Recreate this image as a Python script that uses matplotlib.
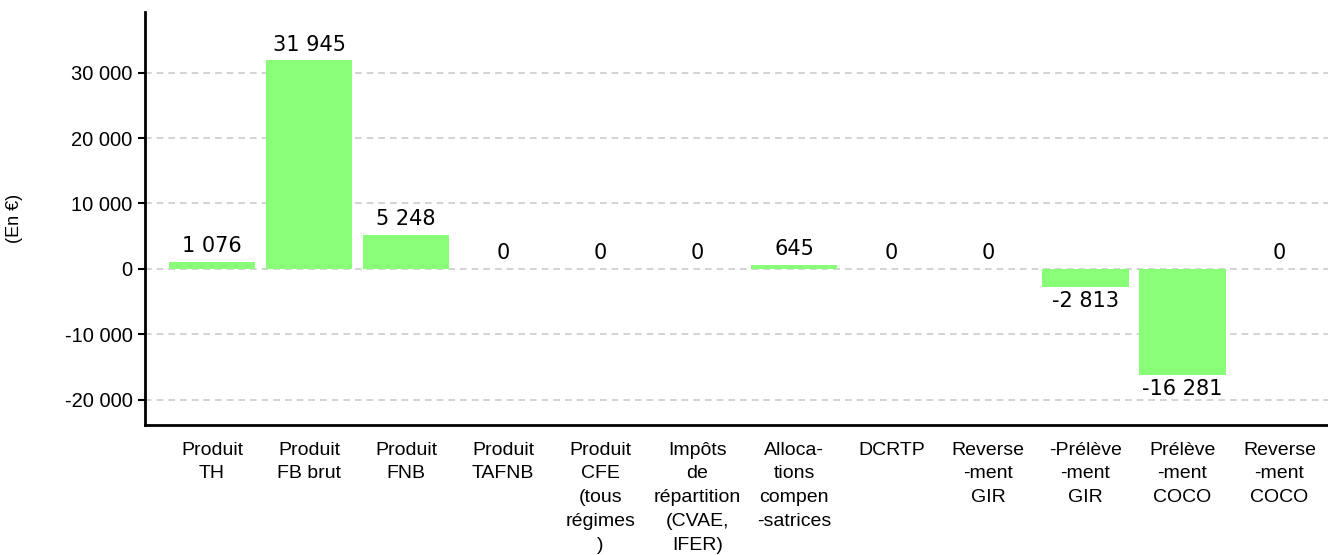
import matplotlib.pyplot as plt
from matplotlib.ticker import FuncFormatter

categories = [
    "Produit\nTH", "Produit\nFB brut", "Produit\nFNB", "Produit\nTAFNB",
    "Produit\nCFE\n(tous\nrégimes\n)", "Impôts\nde\nrépartition\n(CVAE,\nIFER)",
    "Alloca-\ntions\ncompen\n-satrices", "DCRTP", "Reverse\n-ment\nGIR",
    "-Prélève\n-ment\nGIR", "Prélève\n-ment\nCOCO", "Reverse\n-ment\nCOCO",
]
values = [1076, 31945, 5248, 0, 0, 0, 645, 0, 0, -2813, -16281, 0]
yticks = [-20000, -10000, 0, 10000, 20000, 30000]


def fr(v):
    return f"{v:,.0f}".replace(",", " ")


fig = plt.figure(figsize=(13.28, 5.55), dpi=100)
ax = fig.add_axes([145 / 1328, 130 / 555, 1183 / 1328, 413 / 555])

x = list(range(len(values)))
ax.bar(x, values, width=0.89, color="#88ff77", zorder=2)

# étiquettes de valeurs
for xi, v in zip(x, values):
    if v < 0:
        ax.annotate(fr(v), (xi, v), textcoords="offset points", xytext=(0, -3),
                    ha="center", va="top", fontsize=15, family="DejaVu Sans")
    else:
        ax.annotate(fr(v), (xi, v), textcoords="offset points", xytext=(0, 4),
                    ha="center", va="bottom", fontsize=15, family="DejaVu Sans")

ax.set_xlim(-0.69, 11.5)
ax.set_ylim(-23900, 39300)
ax.set_yticks(yticks)
ax.yaxis.set_major_formatter(FuncFormatter(lambda v, p: fr(v)))
ax.set_xticks(x)
ax.set_xticklabels(categories, family="Liberation Sans", fontsize=14, linespacing=1.52)
for lab in ax.get_yticklabels():
    lab.set_family("Liberation Sans")
    lab.set_fontsize(14.5)

ax.tick_params(axis="x", length=0, pad=12)
ax.tick_params(axis="y", length=5, width=1.5, pad=4)
ax.grid(axis="y", color="#cccccc", linestyle=(0, (4, 3)), linewidth=1.2, zorder=0)
ax.spines["top"].set_visible(False)
ax.spines["right"].set_visible(False)
ax.spines["left"].set_linewidth(2)
ax.spines["bottom"].set_linewidth(2)

ax.set_ylabel("(En €)", family="Liberation Sans", fontsize=13, labelpad=30)

fig.savefig("out.png", dpi=100)
